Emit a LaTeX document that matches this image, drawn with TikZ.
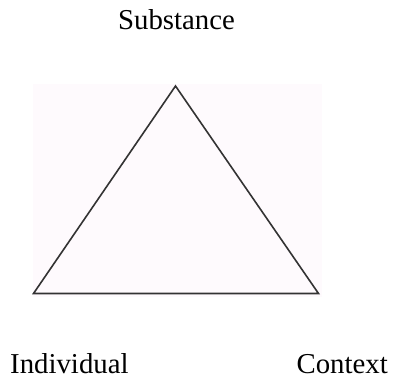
\documentclass[tikz,border=0pt]{standalone}
\usepackage{fontspec}
\setmainfont{Liberation Serif}
\definecolor{bgpink}{HTML}{FEFAFD}
\definecolor{edge}{HTML}{333333}
\begin{document}
\begin{tikzpicture}[x=1pt,y=-1pt,
  lbl/.style={inner sep=0pt,font=\fontsize{28.8}{34}\selectfont,text=black},
  side/.style={draw=edge,line width=1.6pt,line join=miter}]
\useasboundingbox (0,0) rectangle (393,379);
\fill[bgpink] (33,84) rectangle (322,297);
\coordinate (top) at (175.5,86);
\coordinate (bl) at (33.5,293.5);
\coordinate (br) at (318.5,293.5);
\draw[side] (top) -- (br) -- (bl) -- cycle;
\node[lbl,anchor=base] (subst) at (176.5,30) {Substance};
\node[lbl,anchor=base west] (indiv) at (10,373) {Individual};
\node[lbl,anchor=base east] (ctx) at (388,373) {Context};
\end{tikzpicture}
\end{document}
